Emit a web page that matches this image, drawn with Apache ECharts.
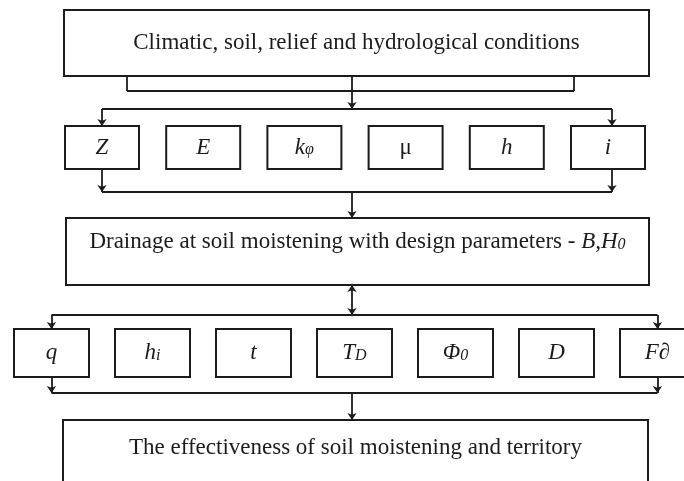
<!DOCTYPE html>
<html>
<head>
<meta charset="utf-8">
<script src="https://cdn.jsdelivr.net/npm/echarts@6/dist/echarts.min.js"></script>
<style>
html, body { margin: 0; padding: 0; background: #fff; }
#chart { width: 684px; height: 481px; }
</style>
</head>
<body>
<div id="chart"></div>
<script>
// texts of the three wide blocks (top, middle, bottom)
const blockTexts = [
    'Climatic, soil, relief and hydrological conditions',
    'Drainage at soil moistening with design parameters - {i|B,H}{s|0}',
    'The effectiveness of soil moistening and territory'
];
// factor boxes, first row (input parameters)
const topFactors = ['{i|Z}', '{i|E}', '{i|k}{s|φ}', '{r|μ}', '{i|h}', '{i|i}'];
// factor boxes, second row (results)
const bottomFactors = ['{i|q}', '{i|h}{s|i}', '{i|t}', '{i|T}{s|D}', '{i|Φ}{s|0}', '{i|D}', '{i|F∂}'];

// ---- layout (pixel units of the hidden axes) ----
const blocks = [
    { x0: 64, x1: 649, y0: 10, y1: 76, ty: 43 },
    { x0: 66, x1: 649, y0: 218, y1: 285, ty: 242 },
    { x0: 63, x1: 648, y0: 420, y1: 490, ty: 448 }
];
const row1 = { left: 65, step: 101.2, w: 74, y0: 126, y1: 169 };
const row2 = { left: 14, step: 101, w: 75, y0: 329, y1: 377 };
const midX = 352;

const ink = '#1c1c1c';
const rich = {
    i: { fontFamily: 'Liberation Serif', fontStyle: 'italic', fontSize: 23, fill: ink },
    s: { fontFamily: 'Liberation Serif', fontStyle: 'italic', fontSize: 16, fill: ink, verticalAlign: 'bottom', padding: [0, 0, 1, 0] },
    r: { fontFamily: 'Liberation Serif', fontSize: 23, fill: ink }
};

function rowData(row, labels) {
    return labels.map((l, i) => {
        const x0 = row.left + i * row.step;
        return [x0, row.y0, x0 + row.w, row.y1, (row.y0 + row.y1) / 2];
    });
}
function rowCenters(row, n) {
    return [row.left + row.w / 2, row.left + (n - 1) * row.step + row.w / 2];
}

function boxRenderer(labels) {
    return function (params, api) {
        const p0 = api.coord([api.value(0), api.value(1)]);
        const p1 = api.coord([api.value(2), api.value(3)]);
        const ty = api.coord([0, api.value(4)])[1];
        return {
            type: 'group',
            children: [
                {
                    type: 'rect',
                    shape: { x: p0[0], y: p0[1], width: p1[0] - p0[0], height: p1[1] - p0[1] },
                    style: { fill: '#fff', stroke: ink, lineWidth: 2 }
                },
                {
                    type: 'text',
                    style: {
                        text: labels[params.dataIndex],
                        x: (p0[0] + p1[0]) / 2, y: ty,
                        align: 'center', verticalAlign: 'middle',
                        font: '23px "Liberation Serif"', fill: ink,
                        rich: rich
                    }
                }
            ]
        };
    };
}

// connectors
const r1 = rowCenters(row1, topFactors.length);
r1[1] += 4;
const r2 = rowCenters(row2, bottomFactors.length);
const y1dist = 109, y1coll = 192, y2dist = 315, y2coll = 393, bracketY = 91;

const plainSegs = [
    [[127, blocks[0].y1], [127, bracketY]],
    [[127, bracketY], [574, bracketY]],
    [[574, bracketY], [574, blocks[0].y1]],
    [[r1[0], y1dist], [r1[1], y1dist]],
    [[r1[0], y1coll], [r1[1], y1coll]],
    [[r2[0], y2dist], [r2[1], y2dist]],
    [[r2[0], y2coll], [r2[1], y2coll]]
];
const arrowSegs = [
    [[midX, blocks[0].y1], [midX, y1dist]],
    [[r1[0], y1dist], [r1[0], row1.y0]],
    [[r1[1], y1dist], [r1[1], row1.y0]],
    [[r1[0], row1.y1], [r1[0], y1coll]],
    [[r1[1], row1.y1], [r1[1], y1coll]],
    [[midX, y1coll], [midX, blocks[1].y0]],
    [[r2[0], y2dist], [r2[0], row2.y0]],
    [[r2[1], y2dist], [r2[1], row2.y0]],
    [[r2[0], row2.y1], [r2[0], y2coll]],
    [[r2[1], row2.y1], [r2[1], y2coll]],
    [[midX, y2coll], [midX, blocks[2].y0]]
];
const doubleSegs = [
    [[midX, blocks[1].y1], [midX, y2dist]]
];

const chart = echarts.init(document.getElementById('chart'));
const lineStyle = { color: ink, width: 1.8, opacity: 1 };
const option = {
    backgroundColor: '#fff',
    animation: false,
    grid: { left: 0, right: 0, top: 0, bottom: 0 },
    xAxis: { type: 'value', min: 0, max: 684, show: false },
    yAxis: { type: 'value', min: 0, max: 481, inverse: true, show: false },
    series: [
        {
            type: 'lines', coordinateSystem: 'cartesian2d', symbol: 'none',
            lineStyle: lineStyle, z: 1,
            data: plainSegs.map(c => ({ coords: c }))
        },
        {
            type: 'lines', coordinateSystem: 'cartesian2d', symbol: ['none', 'arrow'], symbolSize: 7,
            lineStyle: lineStyle, z: 1,
            data: arrowSegs.map(c => ({ coords: c }))
        },
        {
            type: 'lines', coordinateSystem: 'cartesian2d', symbol: ['arrow', 'arrow'], symbolSize: 7,
            lineStyle: lineStyle, z: 1,
            data: doubleSegs.map(c => ({ coords: c }))
        },
        {
            type: 'custom', z: 2,
            renderItem: boxRenderer(blockTexts),
            data: blocks.map(b => [b.x0, b.y0, b.x1, b.y1, b.ty])
        },
        {
            type: 'custom', z: 2,
            renderItem: boxRenderer(topFactors),
            data: rowData(row1, topFactors)
        },
        {
            type: 'custom', z: 2,
            renderItem: boxRenderer(bottomFactors),
            data: rowData(row2, bottomFactors)
        }
    ]
};
chart.setOption(option);
</script>
</body>
</html>
